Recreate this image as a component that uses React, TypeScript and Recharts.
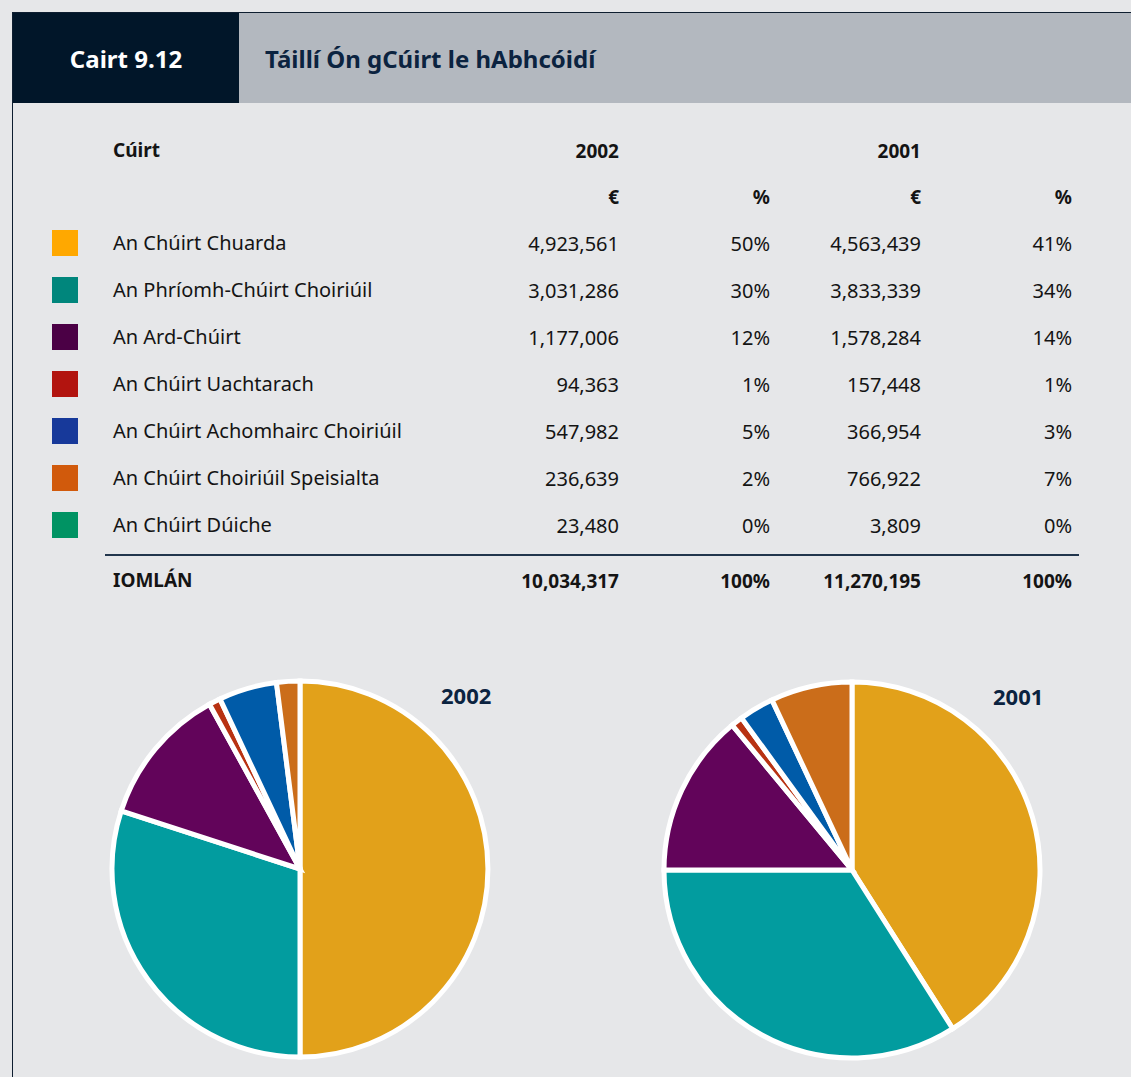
import React from "react";
import { PieChart, Pie, Cell } from "recharts";

// courts, in table order
const courts = [
  "An Chúirt Chuarda",
  "An Phríomh-Chúirt Choiriúil",
  "An Ard-Chúirt",
  "An Chúirt Uachtarach",
  "An Chúirt Achomhairc Choiriúil",
  "An Chúirt Choiriúil Speisialta",
  "An Chúirt Dúiche",
];
const fees2002 = [4923561, 3031286, 1177006, 94363, 547982, 236639, 23480];
const pct2002 = [50, 30, 12, 1, 5, 2, 0];
const fees2001 = [4563439, 3833339, 1578284, 157448, 366954, 766922, 3809];
const pct2001 = [41, 34, 14, 1, 3, 7, 0];
const total2002 = 10034317;
const total2001 = 11270195;

const swatchColors = ["#ffa800", "#00867c", "#4b0045", "#b2140f", "#17399a", "#d15a0c", "#009363"];
const sliceColors = ["#e2a11a", "#029c9f", "#62045a", "#b83212", "#005ba8", "#cb6d1a", "#009363"];

const FONT = "'Noto Sans', sans-serif";
const INK = "#141414";
const NAVY = "#0b2340";

const fmt = (n: number) => n.toLocaleString("en-US");

const rowTop = 243;
const rowStep = 47;

const numCols = [619, 770, 921, 1072];

const Right: React.FC<{ x: number; y: number; bold?: boolean; children: React.ReactNode }> = ({ x, y, bold, children }) => (
  <div
    style={{
      position: "absolute",
      right: 1131 - x,
      top: y - 14,
      height: 28,
      lineHeight: "28px",
      fontSize: bold ? 19 : 20,
      fontWeight: bold ? 700 : 400,
      whiteSpace: "nowrap",
      color: INK,
    }}
  >
    {children}
  </div>
);

const Left: React.FC<{ x: number; y: number; bold?: boolean; children: React.ReactNode }> = ({ x, y, bold, children }) => (
  <div
    style={{
      position: "absolute",
      left: x,
      top: y - 14,
      height: 28,
      lineHeight: "28px",
      fontSize: bold ? 19 : 20,
      fontWeight: bold ? 700 : 400,
      whiteSpace: "nowrap",
      color: INK,
    }}
  >
    {children}
  </div>
);

// pies are drawn from the rounded shares shown in the table
const CourtPie: React.FC<{ values: number[]; left: number; top: number }> = ({ values, left, top }) => {
  const data = courts.map((name, i) => ({ name, value: values[i] }));
  return (
    <div style={{ position: "absolute", left, top }}>
      <PieChart width={400} height={400} margin={{ top: 0, right: 0, bottom: 0, left: 0 }}>
        <Pie
          data={data}
          dataKey="value"
          nameKey="name"
          cx={200}
          cy={200}
          outerRadius={188}
          startAngle={90}
          endAngle={-270}
          stroke="#ffffff"
          strokeWidth={5}
          isAnimationActive={false}
        >
          {data.map((d, i) => (
            <Cell key={d.name} fill={sliceColors[i]} stroke="#ffffff" strokeWidth={5} />
          ))}
        </Pie>
      </PieChart>
    </div>
  );
};

export default function App() {
  return (
    <div
      style={{
        position: "absolute",
        left: 0,
        top: 0,
        width: 1131,
        height: 1077,
        background: "#e6e7e9",
        overflow: "hidden",
        fontFamily: FONT,
      }}
    >
      {/* frame lines */}
      <div style={{ position: "absolute", left: 12, top: 12, width: 1119, height: 1, background: "#0e1e30" }} />
      <div style={{ position: "absolute", left: 12, top: 12, width: 1, height: 1065, background: "#0e1e30" }} />

      {/* header */}
      <div
        style={{
          position: "absolute",
          left: 13,
          top: 13,
          width: 226,
          height: 90,
          background: "#011629",
          color: "#ffffff",
          fontWeight: 700,
          fontSize: 24,
          display: "flex",
          alignItems: "center",
          justifyContent: "center",
        }}
      >
        Cairt 9.12
      </div>
      <div
        style={{
          position: "absolute",
          left: 239,
          top: 13,
          width: 892,
          height: 90,
          background: "#b3b8bf",
          color: NAVY,
          fontWeight: 700,
          fontSize: 24,
          display: "flex",
          alignItems: "center",
          paddingLeft: 26,
          boxSizing: "border-box",
        }}
      >
        Táillí Ón gCúirt le hAbhcóidí
      </div>

      {/* table header */}
      <Left x={113} y={150} bold>Cúirt</Left>
      <Right x={numCols[0]} y={151} bold>2002</Right>
      <Right x={numCols[2]} y={151} bold>2001</Right>
      <Right x={numCols[0]} y={197} bold>€</Right>
      <Right x={numCols[1]} y={197} bold>%</Right>
      <Right x={numCols[2]} y={197} bold>€</Right>
      <Right x={numCols[3]} y={197} bold>%</Right>

      {courts.map((c, i) => {
        const y = rowTop + i * rowStep;
        return (
          <React.Fragment key={c}>
            <div
              style={{
                position: "absolute",
                left: 52,
                top: y - 13,
                width: 26,
                height: 26,
                background: swatchColors[i],
              }}
            />
            <Left x={113} y={y}>{c}</Left>
            <Right x={numCols[0]} y={y + 1}>{fmt(fees2002[i])}</Right>
            <Right x={numCols[1]} y={y + 1}>{pct2002[i]}%</Right>
            <Right x={numCols[2]} y={y + 1}>{fmt(fees2001[i])}</Right>
            <Right x={numCols[3]} y={y + 1}>{pct2001[i]}%</Right>
          </React.Fragment>
        );
      })}

      <div style={{ position: "absolute", left: 105, top: 554, width: 974, height: 2, background: "#22364d" }} />

      <Left x={113} y={580} bold>IOMLÁN</Left>
      <Right x={numCols[0]} y={581} bold>{fmt(total2002)}</Right>
      <Right x={numCols[1]} y={581} bold>100%</Right>
      <Right x={numCols[2]} y={581} bold>{fmt(total2001)}</Right>
      <Right x={numCols[3]} y={581} bold>100%</Right>

      {/* pies */}
      <CourtPie values={pct2002} left={100} top={669} />
      <CourtPie values={pct2001} left={652} top={670} />

      <div style={{ position: "absolute", left: 441, top: 680, fontSize: 22, fontWeight: 700, color: NAVY, lineHeight: "30px" }}>
        2002
      </div>
      <div style={{ position: "absolute", left: 993, top: 681, fontSize: 22, fontWeight: 700, color: NAVY, lineHeight: "30px" }}>
        2001
      </div>
    </div>
  );
}
